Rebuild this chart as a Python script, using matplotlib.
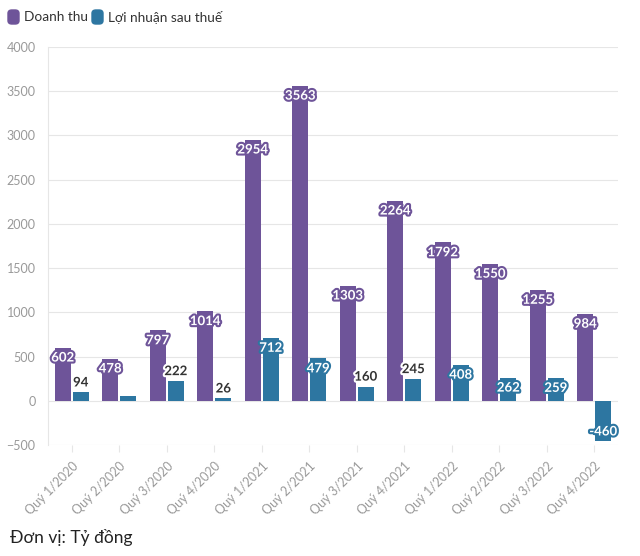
import matplotlib.pyplot as plt
import matplotlib.patheffects as pe
from matplotlib.patches import FancyBboxPatch
import numpy as np

plt.rcParams['font.family'] = ['Lato', 'DejaVu Sans']

quarters = ['Quý 1/2020', 'Quý 2/2020', 'Quý 3/2020', 'Quý 4/2020',
            'Quý 1/2021', 'Quý 2/2021', 'Quý 3/2021', 'Quý 4/2021',
            'Quý 1/2022', 'Quý 2/2022', 'Quý 3/2022', 'Quý 4/2022']
doanh_thu = [602, 478, 797, 1014, 2954, 3563, 1303, 2264, 1792, 1550, 1255, 984]
loi_nhuan = [94, 57, 222, 26, 712, 479, 160, 245, 408, 262, 259, -460]
show_ln_label = [True, False, True, True, True, True, True, True, True, True, True, True]

purple = '#6e5499'
blue = '#2d76a1'

fig = plt.figure(figsize=(6.4, 5.56), dpi=100)
ax = fig.add_axes([48/640, 1 - 445/556, 570/640, 398/556])

x = np.arange(len(quarters))
w = 0.34
off = 0.19
ax.bar(x - off, doanh_thu, width=w, color=purple, zorder=3)
ax.bar(x + off, loi_nhuan, width=w, color=blue, zorder=3)

ax.set_xlim(-0.5, len(quarters) - 0.5)
ax.set_ylim(-500, 4000)
ax.set_yticks(range(-500, 4001, 500))
ax.yaxis.grid(True, color='#e6e6e6', linewidth=0.8, zorder=0)
ax.tick_params(axis='y', length=0, labelsize=9, labelcolor='#999999', pad=9)
ax.set_xticks(x)
ax.set_xticklabels(quarters, rotation=45, ha='right', rotation_mode='anchor',
                   fontsize=9, color='#999999')
ax.tick_params(axis='x', length=5, color='#e6e6e6', pad=6)
for s in ['top', 'right', 'bottom']:
    ax.spines[s].set_visible(False)
ax.spines['left'].set_color('#e6e6e6')

dy = 10 * 4500 / 398  # ~10 px in data units


def inside_label(xp, y, txt, color):
    ax.text(xp, y, txt, ha='center', va='center', fontsize=9.5, fontweight='bold',
            color='white', zorder=5,
            path_effects=[pe.withStroke(linewidth=3, foreground=color)])


for i in range(len(quarters)):
    inside_label(x[i] - off, doanh_thu[i] - dy, str(doanh_thu[i]), purple)
    v = loi_nhuan[i]
    if not show_ln_label[i]:
        continue
    if v < 0:
        inside_label(x[i] + off, v + dy, str(v), blue)
    elif v >= 250:
        inside_label(x[i] + off, v - dy, str(v), blue)
    else:
        ax.text(x[i] + off, v + dy, str(v), ha='center', va='center', fontsize=9.5,
                fontweight='bold', color='#333333', zorder=5,
                path_effects=[pe.withStroke(linewidth=3, foreground='white')])

# legend
for lx, label, c in [(8, 'Doanh thu', purple), (92, 'Lợi nhuận sau thuế', blue)]:
    fig.patches.append(FancyBboxPatch((lx / 640, 1 - 24 / 556), 11 / 640, 14 / 556,
                                      boxstyle='round,pad=0,rounding_size=0.006',
                                      transform=fig.transFigure, color=c, zorder=4))
    fig.text((lx + 16) / 640, 1 - 17 / 556, label, fontsize=9.8, color='#333333',
             va='center', ha='left')

fig.text(10 / 640, 1 - 537 / 556, 'Đơn vị: Tỷ đồng', fontsize=12.5, color='#222222',
         va='center', ha='left')

fig.savefig('out.png', dpi=100)
